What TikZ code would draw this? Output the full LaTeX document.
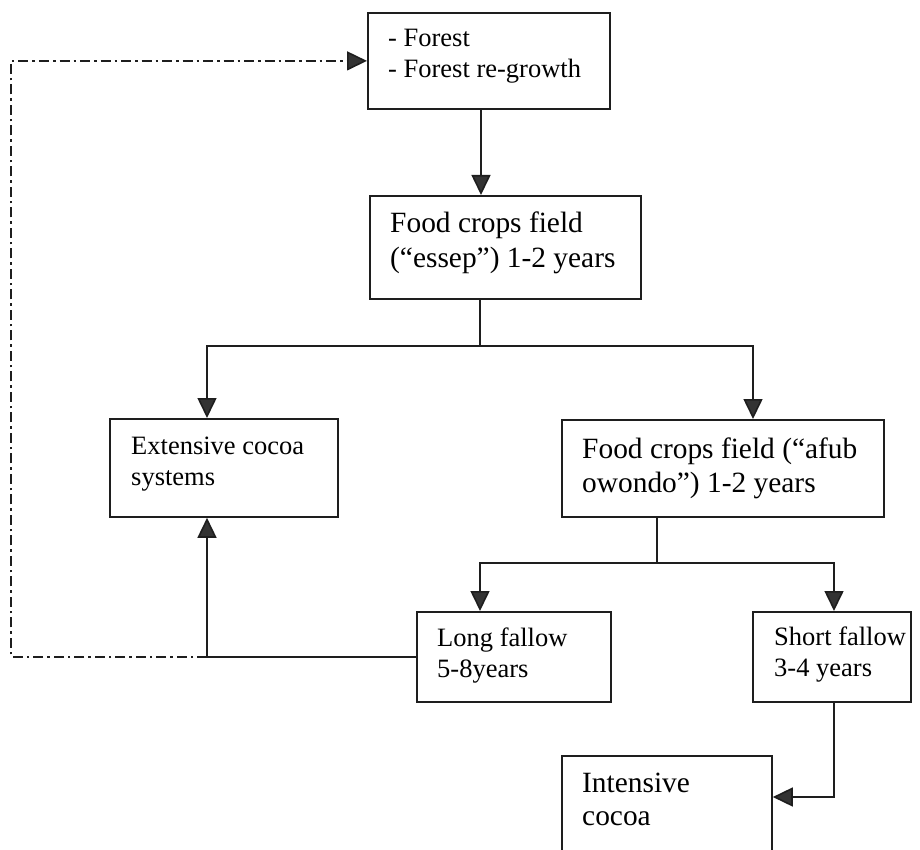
\documentclass[tikz,border=0pt]{standalone}
\usepackage{fontspec}
\setmainfont{Liberation Serif}
\usetikzlibrary{arrows.meta}
\definecolor{lc}{HTML}{1E1E1E}
\definecolor{ac}{HTML}{333333}
\newcommand{\twoln}[2]{\begin{tabular}[t]{@{}l@{}}#1\\#2\end{tabular}}
\begin{document}
\begin{tikzpicture}[x=1pt,y=-1pt,
  boxst/.style={draw=lc, line width=1.8pt, anchor=north west, inner sep=0pt},
  conn/.style={draw=lc, line width=1.6pt},
  arr/.style={-{Triangle[length=20pt,width=19pt,fill=ac]}},
  dd/.style={draw=lc, line width=1.6pt, dash pattern=on 10pt off 4pt on 2.5pt off 4pt},
  txts/.style={anchor=base west, inner sep=0pt, text=black, font=\fontsize{26.5}{31}\selectfont},
  txtl/.style={anchor=base west, inner sep=0pt, text=black, font=\fontsize{29.4}{34.5}\selectfont}]
\useasboundingbox (0,0) rectangle (920,850);
\clip (0,0) rectangle (920,850);
% boxes
\node[boxst, minimum width=242pt, minimum height=96pt] (forest) at (367,12) {};
\node[boxst, minimum width=271pt, minimum height=103pt] (ess) at (369,195) {};
\node[boxst, minimum width=228pt, minimum height=98pt] (ext) at (109,418) {};
\node[boxst, minimum width=322pt, minimum height=97pt] (afub) at (561,419) {};
\node[boxst, minimum width=194pt, minimum height=90pt] (long) at (416,611) {};
\node[boxst, minimum width=158pt, minimum height=90pt] (short) at (752,611) {};
\node[boxst, minimum width=210pt, minimum height=96pt] (inten) at (561,755) {};
% texts
\node[txts] (forestT) at (388,47) {\twoln{- Forest}{- Forest re-growth}};
\node[txtl] (essT) at (390,233) {\twoln{Food crops field}{(“essep”) 1-2 years}};
\node[txts] (extT) at (131,454) {\twoln{Extensive cocoa}{systems}};
\node[txtl] (afubT) at (582,458) {\twoln{Food crops field (“afub}{owondo”) 1-2 years}};
\node[txts] (longT) at (437,646) {\twoln{Long fallow}{5-8years}};
\node[txts] (shortT) at (774,645) {\twoln{Short fallow}{3-4 years}};
\node[txtl, font=\fontsize{29.4}{33}\selectfont] (intenT) at (582,792) {\twoln{Intensive}{cocoa}};
% helper coordinates
\coordinate (xa) at (481,0);
\coordinate (xb) at (207,0);
\coordinate (xc) at (753,0);
\coordinate (xe) at (480,0);
\coordinate (xf) at (834,0);
\coordinate (xg) at (11,0);
\coordinate (j1) at (480,346);
\coordinate (j2) at (657,563);
\coordinate (yk) at (0,797);
\coordinate (jl) at (long.west -| xb);
\coordinate (du) at (forest.west -| xg);
% connectors
\draw[conn,arr] (forest.south -| xa) -- (ess.north -| xa);
\draw[conn] (ess.south -| j1) -- (j1);
\draw[conn,arr] (j1) -| (ext.north -| xb);
\draw[conn,arr] (j1) -| (afub.north -| xc);
\draw[conn] (afub.south -| j2) -- (j2);
\draw[conn,arr] (j2) -| (long.north -| xe);
\draw[conn,arr] (j2) -| (short.north -| xf);
\draw[conn] (long.west) -- (jl);
\draw[conn,arr] (jl) -- (ext.south -| xb);
\draw[dd,arr] (jl) -| (du) -- (forest.west);
\draw[conn,arr] (short.south -| xf) |- (inten.east |- yk);
\end{tikzpicture}
\end{document}
